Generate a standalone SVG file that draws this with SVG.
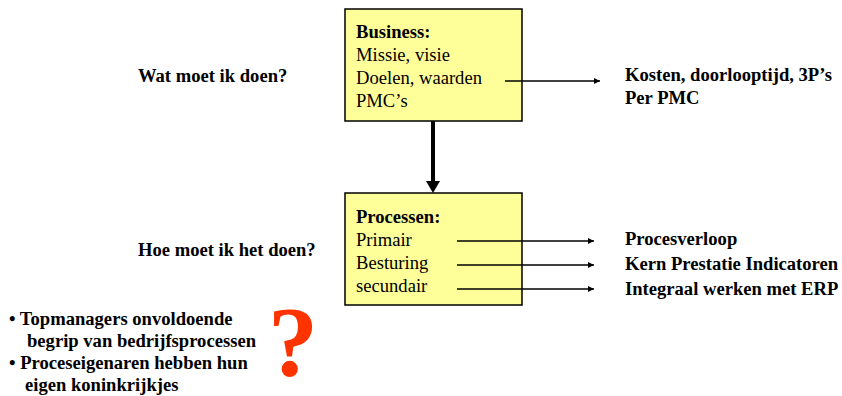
<svg xmlns="http://www.w3.org/2000/svg" width="842" height="396" viewBox="0 0 842 396">
  <style>
    .box { fill: #FFFF99; stroke: #000; stroke-width: 1.5; }
    .t { font-family: "Liberation Serif", "Times New Roman", serif; font-size: 18.6px; fill: #000; }
    .b { font-weight: bold; }
    .lbl { font-family: "Liberation Serif", "Times New Roman", serif; font-size: 18.6px; font-weight: bold; fill: #000; }
    .link { stroke: #000; stroke-width: 1.3; fill: none; marker-end: url(#arr); }
  </style>
  <defs>
    <marker id="arr" viewBox="0 0 10 10" refX="10" refY="5" markerWidth="8" markerHeight="6" markerUnits="userSpaceOnUse" orient="auto">
      <path d="M0,0 L10,5 L0,10 z" fill="#000"/>
    </marker>
  </defs>
  <rect width="842" height="396" fill="#fff"/>

  <g id="business">
    <rect class="box" x="345" y="9" width="177" height="112"/>
    <text class="t b" x="356" y="38">Business:</text>
    <text class="t" x="356" y="61">Missie, visie</text>
    <text class="t" x="356" y="84">Doelen, waarden</text>
    <text class="t" x="356" y="107">PMC’s</text>
  </g>

  <g id="processen">
    <rect class="box" x="345" y="193" width="177" height="112"/>
    <text class="t b" x="356" y="223">Processen:</text>
    <text class="t" x="356" y="246">Primair</text>
    <text class="t" x="356" y="269">Besturing</text>
    <text class="t" x="356" y="292">secundair</text>
  </g>

  <g id="vraag-wat">
    <text class="lbl" x="138" y="82">Wat moet ik doen?</text>
  </g>
  <g id="vraag-hoe">
    <text class="lbl" x="138" y="256">Hoe moet ik het doen?</text>
  </g>

  <g id="resultaat-business">
    <text class="lbl" x="625" y="81">Kosten, doorlooptijd, 3P’s</text>
    <text class="lbl" x="625" y="104">Per PMC</text>
  </g>

  <g id="resultaat-processen">
    <text class="lbl" x="625" y="245">Procesverloop</text>
    <text class="lbl" x="625" y="270">Kern Prestatie Indicatoren</text>
    <text class="lbl" x="625" y="295">Integraal werken met ERP</text>
  </g>

  <g id="knelpunten">
    <text class="lbl" x="9" y="325">• Topmanagers onvoldoende</text>
    <text class="lbl" x="27" y="347">begrip van bedrijfsprocessen</text>
    <text class="lbl" x="9" y="369">• Proceseigenaren hebben hun</text>
    <text class="lbl" x="25" y="391">eigen koninkrijkjes</text>
  </g>

  <g id="vraagteken">
    <text x="293" y="375" text-anchor="middle" font-family="Liberation Serif, Times New Roman, serif" font-size="100" font-weight="bold" fill="#FF3300">?</text>
  </g>

  <!-- connectors, drawn on top of the boxes -->
  <g id="connectors">
    <line x1="433" y1="121" x2="433" y2="182" stroke="#000" stroke-width="4"/>
    <path d="M426,181 L440,181 L433,193 z" fill="#000"/>
    <line class="link" x1="505" y1="81" x2="600" y2="81"/>
    <line class="link" x1="457" y1="241" x2="594" y2="241"/>
    <line class="link" x1="457" y1="265" x2="594" y2="265"/>
    <line class="link" x1="457" y1="289" x2="594" y2="289"/>
  </g>
</svg>
